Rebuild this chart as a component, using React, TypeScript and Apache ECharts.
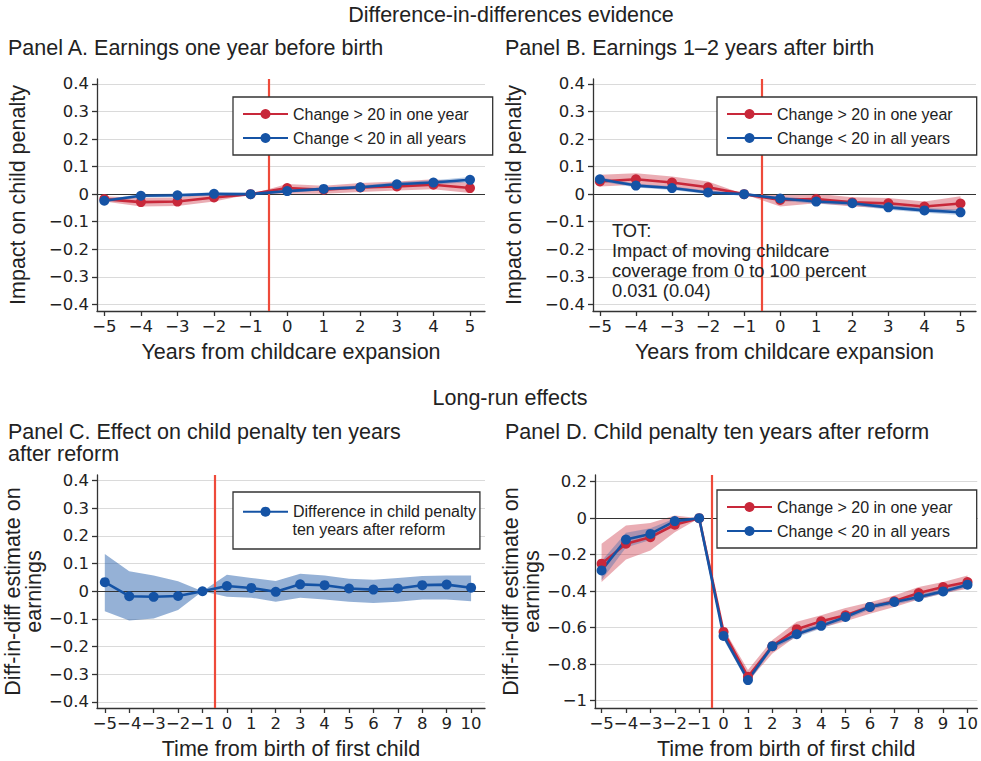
import React, { useEffect, useRef } from 'react';
import * as echarts from 'echarts';

// ---------- data ----------
const eventYears = [-5, -4, -3, -2, -1, 0, 1, 2, 3, 4, 5];
const birthYears = [-5, -4, -3, -2, -1, 0, 1, 2, 3, 4, 5, 6, 7, 8, 9, 10];

const tickRow1Y = [-0.4, -0.3, -0.2, -0.1, 0, 0.1, 0.2, 0.3, 0.4];
const tickPanelDY = [-1, -0.8, -0.6, -0.4, -0.2, 0, 0.2];

const NAME_BIG = 'Change > 20 in one year';
const NAME_SMALL = 'Change < 20 in all years';
const NAME_LONG = 'Difference in child penalty ten years after reform';

// Panel A: earnings one year before birth
const aBig = [-0.018, -0.029, -0.027, -0.012, 0, 0.022, 0.016, 0.024, 0.028, 0.034, 0.022];
const aBigLo = [-0.027, -0.045, -0.043, -0.027, 0, 0.001, 0.001, 0.008, 0.013, 0.018, 0.004];
const aBigHi = [-0.008, -0.014, -0.012, 0.004, 0, 0.037, 0.03, 0.04, 0.046, 0.054, 0.04];
const aSmall = [-0.024, -0.006, -0.004, 0.001, 0, 0.011, 0.019, 0.025, 0.036, 0.042, 0.052];
const aSmallLo = [-0.03, -0.012, -0.01, -0.004, 0, 0.005, 0.013, 0.019, 0.029, 0.035, 0.043];
const aSmallHi = [-0.018, 0.0, 0.002, 0.006, 0, 0.017, 0.025, 0.031, 0.043, 0.05, 0.062];

// Panel B: earnings 1-2 years after birth
const bBig = [0.046, 0.054, 0.042, 0.025, 0, -0.021, -0.018, -0.03, -0.033, -0.045, -0.034];
const bBigLo = [0.028, 0.034, 0.022, 0.01, 0, -0.045, -0.033, -0.045, -0.051, -0.063, -0.057];
const bBigHi = [0.07, 0.076, 0.064, 0.046, 0, -0.002, 0.001, -0.011, -0.014, -0.027, -0.008];
const bSmall = [0.054, 0.031, 0.022, 0.006, 0, -0.016, -0.027, -0.033, -0.048, -0.059, -0.066];
const bSmallLo = [0.047, 0.024, 0.015, 0.0, 0, -0.024, -0.035, -0.041, -0.057, -0.068, -0.076];
const bSmallHi = [0.061, 0.038, 0.029, 0.012, 0, -0.009, -0.019, -0.025, -0.039, -0.05, -0.056];

// Panel C: effect on child penalty ten years after reform
const cDiff = [0.033, -0.018, -0.02, -0.017, 0, 0.019, 0.012, -0.002, 0.025, 0.022, 0.01, 0.006, 0.01, 0.022, 0.024, 0.013];
const cDiffLo = [-0.072, -0.106, -0.098, -0.068, 0, -0.02, -0.023, -0.038, -0.023, -0.03, -0.038, -0.042, -0.038, -0.03, -0.03, -0.036];
const cDiffHi = [0.135, 0.072, 0.057, 0.036, 0, 0.06, 0.048, 0.037, 0.063, 0.057, 0.045, 0.042, 0.048, 0.055, 0.057, 0.057];

// Panel D: child penalty ten years after reform
const dBig = [-0.249, -0.14, -0.104, -0.036, 0, -0.623, -0.869, -0.701, -0.608, -0.565, -0.532, -0.486, -0.455, -0.41, -0.377, -0.35];
const dBigLo = [-0.35, -0.226, -0.177, -0.077, 0, -0.659, -0.896, -0.741, -0.645, -0.601, -0.565, -0.524, -0.486, -0.445, -0.413, -0.386];
const dBigHi = [-0.14, -0.04, -0.026, 0.015, 0, -0.605, -0.832, -0.668, -0.568, -0.532, -0.492, -0.46, -0.423, -0.377, -0.35, -0.314];
const dSmall = [-0.286, -0.117, -0.086, -0.016, 0, -0.645, -0.887, -0.701, -0.636, -0.59, -0.541, -0.486, -0.459, -0.432, -0.401, -0.364];
const dSmallLo = [-0.34, -0.16, -0.12, -0.035, 0, -0.665, -0.905, -0.717, -0.652, -0.605, -0.556, -0.5, -0.473, -0.446, -0.414, -0.378];
const dSmallHi = [-0.235, -0.08, -0.055, -0.002, 0, -0.625, -0.865, -0.685, -0.62, -0.575, -0.527, -0.472, -0.445, -0.418, -0.388, -0.35];

// ---------- style ----------
const FONT = '"Liberation Sans", Arial, Helvetica, sans-serif';
const TICK_FONT = '"DejaVu Sans", Verdana, sans-serif';
const INK = '#222222';
const RED = '#c8283a';
const BLUE = '#1553a5';
const RED_BAND = 'rgba(200, 40, 58, 0.38)';
const BLUE_BAND = 'rgba(21, 83, 165, 0.3)';
const BLUE_BAND_C = 'rgba(21, 83, 165, 0.45)';
const REFORM_LINE = '#ee4a3a';
const BIG_TEXT = 21.5;
const TICK_TEXT = 16.5;

const minusNum = (v: number) => {
  const a = Math.round(Math.abs(v) * 10) / 10;
  if (a === 0) return '0';
  return (v < 0 ? '\u2212' : '') + String(a);
};

function xAxisFor(gridIndex: number, min: number, max: number, ticks: number[], name: string) {
  return {
    type: 'value',
    gridIndex,
    min,
    max,
    name,
    nameLocation: 'middle',
    nameGap: 30,
    nameTextStyle: { fontSize: BIG_TEXT, color: INK, fontFamily: FONT },
    axisLine: { show: true, onZero: false, lineStyle: { color: '#333', width: 1.3 } },
    axisTick: { show: true, length: 5, customValues: ticks, lineStyle: { color: '#333', width: 1.3 } },
    axisLabel: { customValues: ticks, formatter: minusNum, color: INK, fontSize: TICK_TEXT, fontFamily: TICK_FONT, margin: 7 },
    splitLine: { show: false },
  };
}

function yAxisFor(gridIndex: number, min: number, max: number, ticks: number[], name: string, nameGap: number) {
  return {
    type: 'value',
    gridIndex,
    min,
    max,
    name,
    nameLocation: 'middle',
    nameRotate: 90,
    nameGap,
    nameTextStyle: { fontSize: BIG_TEXT, color: INK, fontFamily: FONT, lineHeight: 21.5 },
    axisLine: { show: true, onZero: false, lineStyle: { color: '#333', width: 1.3 } },
    axisTick: { show: true, length: 5, customValues: ticks, lineStyle: { color: '#333', width: 1.3 } },
    axisLabel: { customValues: ticks, formatter: minusNum, color: INK, fontSize: TICK_TEXT, fontFamily: TICK_FONT, margin: 8 },
    splitLine: { show: true, lineStyle: { color: '#dadada', width: 1.2 } },
  };
}

// shaded confidence band: one polygon running along the upper bounds and back along the lower ones
function band(id: string, g: number, xs: number[], lo: number[], hi: number[], color: string) {
  return {
    type: 'custom',
    name: id,
    xAxisIndex: g,
    yAxisIndex: g,
    silent: true,
    z: 1,
    encode: { x: 0, y: [1, 2] },
    data: xs.map((x, i) => [x, lo[i], hi[i]]),
    renderItem: (params: any, api: any) => {
      if (params.dataIndexInside !== 0) return null;
      const n = params.dataInsideLength;
      const upper: number[][] = [];
      const lower: number[][] = [];
      for (let i = 0; i < n; i++) {
        upper.push(api.coord([api.value(0, i), api.value(2, i)]));
        lower.push(api.coord([api.value(0, i), api.value(1, i)]));
      }
      return {
        type: 'polygon',
        shape: { points: upper.concat(lower.reverse()) },
        style: { fill: color, stroke: 'none' },
      };
    },
  };
}

const refLines = {
  silent: true,
  symbol: ['none', 'none'],
  label: { show: false },
  z: 5,
  data: [
    { yAxis: 0, lineStyle: { color: '#333', width: 1.2, type: 'solid' } },
    { xAxis: -0.5, lineStyle: { color: REFORM_LINE, width: 2.2, type: 'solid' } },
  ],
};

function estimate(name: string, g: number, xs: number[], ys: number[], color: string, withRefLines = false) {
  const s: any = {
    type: 'line',
    name,
    xAxisIndex: g,
    yAxisIndex: g,
    data: xs.map((x, i) => [x, ys[i]]),
    symbol: 'circle',
    symbolSize: 10,
    lineStyle: { color, width: 2.6 },
    itemStyle: { color },
    z: 10,
  };
  if (withRefLines) s.markLine = refLines;
  return s;
}

const legendBase = {
  orient: 'vertical',
  backgroundColor: '#ffffff',
  borderColor: '#333',
  borderWidth: 1.3,
  borderRadius: 0,
  itemWidth: 45,
  itemHeight: 12.5,
  itemGap: 6,
  padding: [8, 24, 8, 9],
  selectedMode: false,
  textStyle: { fontSize: 16, lineHeight: 18, color: INK, fontFamily: FONT },
  z: 20,
};

function txt(x: number, y: number, text: string, size: number, align = 'left') {
  return {
    type: 'text',
    x,
    y,
    z: 30,
    silent: true,
    style: {
      text,
      fill: INK,
      font: `${size}px ${FONT}`,
      align,
      verticalAlign: 'middle',
      textAlign: align,
      textVerticalAlign: 'middle',
      lineHeight: size,
    },
  };
}

export default function App() {
  const ref = useRef<HTMLDivElement>(null);

  useEffect(() => {
    if (!ref.current) return;
    const chart = echarts.init(ref.current, undefined, { renderer: 'svg' });

    const option: any = {
      animation: false,
      backgroundColor: '#ffffff',
      grid: [
        { left: 97, top: 79, width: 388, height: 232 },
        { left: 593, top: 79, width: 383, height: 232 },
        { left: 97, top: 475, width: 388, height: 233 },
        { left: 595, top: 475, width: 383, height: 233 },
      ],
      xAxis: [
        xAxisFor(0, -5.2, 5.41, eventYears, 'Years from childcare expansion'),
        xAxisFor(1, -5.19, 5.43, eventYears, 'Years from childcare expansion'),
        xAxisFor(2, -5.32, 10.57, birthYears, 'Time from birth of first child'),
        xAxisFor(3, -5.27, 10.4, birthYears, 'Time from birth of first child'),
      ],
      yAxis: [
        yAxisFor(0, -0.4243, 0.418, tickRow1Y, 'Impact on child penalty', 68),
        yAxisFor(1, -0.4243, 0.418, tickRow1Y, 'Impact on child penalty', 68),
        yAxisFor(2, -0.4217, 0.42, tickRow1Y, 'Diff-in-diff estimate on\nearnings', 47),
        yAxisFor(3, -1.04, 0.2367, tickPanelDY, 'Diff-in-diff estimate on\nearnings', 47),
      ],
      legend: [
        { ...legendBase, data: [NAME_BIG, NAME_SMALL], left: 233, top: 97 },
        { ...legendBase, data: [NAME_BIG, NAME_SMALL], left: 717, top: 97 },
        {
          ...legendBase,
          data: [NAME_LONG],
          left: 233,
          top: 492,
          padding: [10.7, 4, 28.3, 9],
          formatter: () => 'Difference in child penalty',
        },
        { ...legendBase, data: [NAME_BIG, NAME_SMALL], left: 717, top: 490 },
      ],
      series: [
        band('A big band', 0, eventYears, aBigLo, aBigHi, RED_BAND),
        band('A small band', 0, eventYears, aSmallLo, aSmallHi, BLUE_BAND),
        estimate(NAME_BIG, 0, eventYears, aBig, RED, true),
        estimate(NAME_SMALL, 0, eventYears, aSmall, BLUE),

        band('B big band', 1, eventYears, bBigLo, bBigHi, RED_BAND),
        band('B small band', 1, eventYears, bSmallLo, bSmallHi, BLUE_BAND),
        estimate(NAME_BIG, 1, eventYears, bBig, RED, true),
        estimate(NAME_SMALL, 1, eventYears, bSmall, BLUE),

        band('C band', 2, birthYears, cDiffLo, cDiffHi, BLUE_BAND_C),
        estimate(NAME_LONG, 2, birthYears, cDiff, BLUE, true),

        band('D big band', 3, birthYears, dBigLo, dBigHi, RED_BAND),
        band('D small band', 3, birthYears, dSmallLo, dSmallHi, BLUE_BAND),
        estimate(NAME_BIG, 3, birthYears, dBig, RED, true),
        estimate(NAME_SMALL, 3, birthYears, dSmall, BLUE),
      ],
      graphic: [
        txt(511, 15, 'Difference-in-differences evidence', BIG_TEXT, 'center'),
        txt(8, 48, 'Panel A. Earnings one year before birth', BIG_TEXT),
        txt(505, 48, 'Panel B. Earnings 1\u20132 years after birth', BIG_TEXT),
        txt(510, 398, 'Long-run effects', BIG_TEXT, 'center'),
        txt(8, 431.5, 'Panel C. Effect on child penalty ten years', BIG_TEXT),
        txt(8, 454, 'after reform', BIG_TEXT),
        txt(505, 432, 'Panel D. Child penalty ten years after reform', BIG_TEXT),
        txt(612, 230, 'TOT:', 18.3),
        txt(612, 250, 'Impact of moving childcare', 18.3),
        txt(612, 270, 'coverage from 0 to 100 percent', 18.3),
        txt(612, 290, '0.031 (0.04)', 18.3),
        txt(292.5, 529, 'ten years after reform', 16),
      ],
    };

    chart.setOption(option);
    return () => chart.dispose();
  }, []);

  return (
    <div
      ref={ref}
      style={{ position: 'fixed', left: 0, top: 0, width: 981, height: 761, background: '#ffffff' }}
    />
  );
}
